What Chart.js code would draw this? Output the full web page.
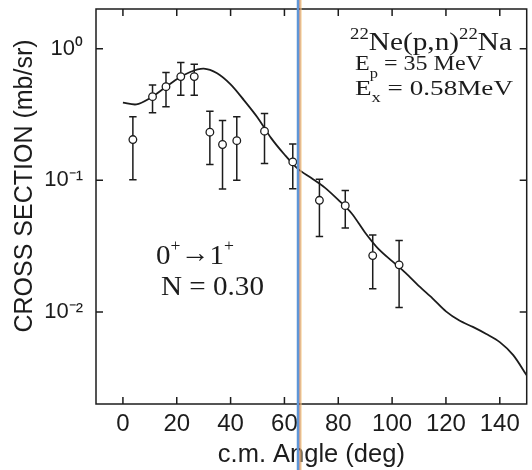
<!DOCTYPE html>
<html>
<head>
<meta charset="utf-8">
<script src="https://cdn.jsdelivr.net/npm/chart.js@4.4.0/dist/chart.umd.min.js"></script>
<style>
  html, body { margin: 0; padding: 0; background: #fff; }
  #wrap { width: 532px; height: 470px; }
</style>
</head>
<body>
<div id="wrap"><canvas id="chart" width="532" height="470"></canvas></div>
<script>
/* measured points: c.m. angle (deg), cross section (mb/sr), error bar ends */
const angles = [3.7, 11, 16, 21.5, 26.5, 32.3, 37, 42.3, 52.6, 63.1, 73, 82.6, 92.8, 102.6];
const sigma  = [0.204, 0.432, 0.514, 0.613, 0.613, 0.232, 0.187, 0.200, 0.236, 0.138, 0.0705, 0.0642, 0.0268, 0.0228];
const errLo  = [0.101, 0.326, 0.362, 0.442, 0.442, 0.132, 0.086, 0.100, 0.134, 0.0864, 0.0375, 0.0434, 0.0150, 0.0108];
const errHi  = [0.304, 0.529, 0.658, 0.784, 0.760, 0.335, 0.285, 0.304, 0.322, 0.189, 0.102, 0.0835, 0.0384, 0.0349];

/* DWBA curve */
const curveAngles = [0, 5, 10, 15, 20, 25, 30, 35, 40, 45, 50, 55, 60, 65, 70, 75, 80, 85, 90, 95, 100,
                     105, 110, 115, 120, 125, 130, 135, 140, 145, 150];
const curveVals   = [0.389, 0.377, 0.42, 0.495, 0.585, 0.665, 0.705, 0.65, 0.535, 0.405, 0.30, 0.21, 0.157,
                     0.122, 0.104, 0.088, 0.071, 0.056, 0.040, 0.030, 0.0243, 0.0198, 0.0157, 0.0127, 0.0101,
                     0.0086, 0.0077, 0.0068, 0.0059, 0.0047, 0.0033];

const xTicks = [0, 20, 40, 60, 80, 100, 120, 140];
const yTicks = [0.01, 0.1, 1];
const yTickLabels = { 0.01: '10\u207B\u00B2', 0.1: '10\u207B\u00B9', 1: '10\u2070' };
const yTitle = 'CROSS SECTION (mb/sr)';
const markerAngle = 65;   // the coloured vertical line over the figure

const INK = '#1c1c1c';
const SANS = "'Liberation Sans', Arial, sans-serif";
const SERIF = "'Liberation Serif', 'Times New Roman', serif";

/* draw text made of parts (sub/superscripts), squeezed to a width */
function richText(ctx, parts, x, y, width) {
  let natural = 0;
  parts.forEach(p => { ctx.font = p.s + 'px ' + SERIF; natural += ctx.measureText(p.t).width; });
  ctx.save();
  ctx.translate(x, y);
  ctx.scale(width / natural, 1);
  ctx.fillStyle = INK;
  ctx.textBaseline = 'alphabetic';
  let cx = 0;
  parts.forEach(p => {
    ctx.font = p.s + 'px ' + SERIF;
    ctx.fillText(p.t, cx, p.dy || 0);
    cx += ctx.measureText(p.t).width;
  });
  ctx.restore();
}

const errorBars = {
  id: 'errorBars',
  beforeDatasetsDraw(chart) {
    const { ctx, scales: { x, y } } = chart;
    ctx.save();
    ctx.strokeStyle = INK;
    ctx.lineWidth = 1.5;
    angles.forEach((a, i) => {
      const px = x.getPixelForValue(a);
      const lo = y.getPixelForValue(errLo[i]);
      const hi = y.getPixelForValue(errHi[i]);
      ctx.beginPath();
      ctx.moveTo(px, lo); ctx.lineTo(px, hi);
      ctx.moveTo(px - 3.7, lo); ctx.lineTo(px + 3.7, lo);
      ctx.moveTo(px - 3.7, hi); ctx.lineTo(px + 3.7, hi);
      ctx.stroke();
    });
    ctx.restore();
  }
};

const frameAndText = {
  id: 'frameAndText',
  afterDraw(chart) {
    const { ctx, chartArea: a, scales: { x, y } } = chart;
    ctx.save();
    ctx.strokeStyle = INK;
    ctx.lineWidth = 1.5;
    ctx.strokeRect(a.left, a.top, a.right - a.left, a.bottom - a.top);
    ctx.beginPath();
    xTicks.forEach(v => {
      const px = x.getPixelForValue(v);
      ctx.moveTo(px, a.bottom); ctx.lineTo(px, a.bottom - 7);
      ctx.moveTo(px, a.top); ctx.lineTo(px, a.top + 7);
    });
    yTicks.forEach(v => {
      const py = y.getPixelForValue(v);
      ctx.moveTo(a.left, py); ctx.lineTo(a.left + 7, py);
      ctx.moveTo(a.right, py); ctx.lineTo(a.right - 7, py);
    });
    ctx.stroke();

    // y axis title, sitting a little above the middle of the axis as in the original
    ctx.save();
    ctx.translate(25, 186);
    ctx.rotate(-Math.PI / 2);
    ctx.font = '25px ' + SANS;
    ctx.fillStyle = INK;
    ctx.textAlign = 'center';
    ctx.textBaseline = 'middle';
    ctx.fillText(yTitle, 0, 0);
    ctx.restore();

    richText(ctx, [{ t: '22', s: 16, dy: -11 }, { t: 'Ne(p,n)', s: 25 }, { t: '22', s: 16, dy: -11 }, { t: 'Na', s: 25 }],
      350, 50, 162);
    richText(ctx, [{ t: 'E', s: 22 }, { t: 'p', s: 15, dy: 8 }, { t: ' = 35 MeV', s: 22 }], 355, 70, 128);
    richText(ctx, [{ t: 'E', s: 22 }, { t: 'x', s: 15, dy: 7 }, { t: ' = 0.58MeV', s: 22 }], 355, 95, 158);
    richText(ctx, [{ t: '0', s: 28 }, { t: '+', s: 17, dy: -13 }, { t: '\u2192', s: 28, dy: -2 }, { t: '1', s: 28 }, { t: '+', s: 17, dy: -13 }],
      156, 264, 78);
    richText(ctx, [{ t: 'N = 0.30', s: 28 }], 161, 294.5, 103);

    // coloured vertical line running over the whole picture
    const mx = Math.round(x.getPixelForValue(markerAngle));
    ctx.lineWidth = 2.5;
    ctx.strokeStyle = 'rgb(95,150,215)';
    ctx.beginPath(); ctx.moveTo(mx, 0); ctx.lineTo(mx, chart.height); ctx.stroke();
    ctx.lineWidth = 1;
    ctx.strokeStyle = 'rgb(175,95,60)';
    ctx.beginPath(); ctx.moveTo(mx + 2, 0); ctx.lineTo(mx + 2, chart.height); ctx.stroke();
    ctx.strokeStyle = 'rgb(245,200,130)';
    ctx.beginPath(); ctx.moveTo(mx + 3, 0); ctx.lineTo(mx + 3, chart.height); ctx.stroke();
    ctx.restore();
  }
};

new Chart(document.getElementById('chart'), {
  type: 'scatter',
  data: {
    datasets: [
      {
        label: 'data',
        data: angles.map((a, i) => ({ x: a, y: sigma[i] })),
        pointStyle: 'circle',
        pointRadius: 3.8,
        pointBorderWidth: 1.3,
        pointBorderColor: INK,
        pointBackgroundColor: '#fff',
        showLine: false,
        order: 0
      },
      {
        label: 'DWBA',
        type: 'line',
        data: curveAngles.map((a, i) => ({ x: a, y: curveVals[i] })),
        borderColor: INK,
        borderWidth: 1.8,
        pointRadius: 0,
        fill: false,
        tension: 0.3,
        order: 1
      }
    ]
  },
  options: {
    responsive: false,
    animation: false,
    devicePixelRatio: 1,
    layout: { padding: { top: 9, right: 3, left: 0, bottom: 0 } },
    plugins: { legend: { display: false }, tooltip: { enabled: false } },
    scales: {
      x: {
        type: 'linear',
        min: -10, max: 150,
        afterBuildTicks: s => { s.ticks = xTicks.map(v => ({ value: v })); },
        afterFit: s => { s.height = 66; s.paddingLeft = 0; s.paddingRight = 0; },
        grid: { display: false, drawTicks: false },
        border: { display: false },
        ticks: { color: INK, font: { family: SANS, size: 24 }, padding: 6, maxRotation: 0, autoSkip: false },
        title: { display: true, text: 'c.m. Angle (deg)', color: INK, font: { family: SANS, size: 25.5 },
                 padding: { top: 0, bottom: 0 } }
      },
      y: {
        type: 'logarithmic',
        min: 0.002, max: 2,
        afterBuildTicks: s => { s.ticks = yTicks.map(v => ({ value: v })); },
        afterFit: s => { s.width = 96; s.paddingTop = 0; s.paddingBottom = 0; },
        grid: { display: false, drawTicks: false },
        border: { display: false },
        ticks: { color: INK, font: { family: SANS, size: 22 }, padding: 13,
                 callback: v => yTickLabels[v] || '' },
        title: { display: false }
      }
    }
  },
  plugins: [errorBars, frameAndText]
});
</script>
</body>
</html>
